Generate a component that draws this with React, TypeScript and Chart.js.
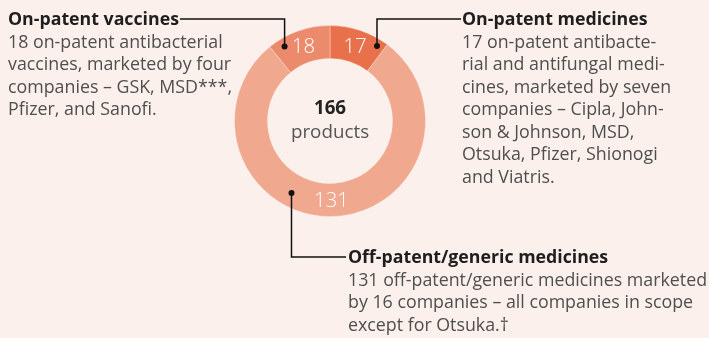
import React, { useEffect, useRef } from "react";
import { Chart, registerables } from "chart.js";

Chart.register(...registerables);

const categories = ["On-patent medicines", "Off-patent/generic medicines", "On-patent vaccines"];
const values = [17, 131, 18];
const colors = ["#E8704A", "#F0A88E", "#EC8A6C"];
const totalLabel = "166";
const totalSub = "products";

const vaccinesTitle = "On-patent vaccines";
const vaccinesBody = [
  "18 on-patent antibacterial",
  "vaccines, marketed by four",
  "companies – GSK, MSD***,",
  "Pfizer, and Sanofi.",
];
const medicinesTitle = "On-patent medicines";
const medicinesBody = [
  "17 on-patent antibacte-",
  "rial and antifungal medi-",
  "cines, marketed by seven",
  "companies – Cipla, John-",
  "son & Johnson, MSD,",
  "Otsuka, Pfizer, Shionogi",
  "and Viatris.",
];
const genericTitle = "Off-patent/generic medicines";
const genericBody = [
  "131 off-patent/generic medicines marketed",
  "by 16 companies – all companies in scope",
  "except for Otsuka.†",
];

const FONT = "'Open Sans', 'Noto Sans', sans-serif";
const BG = "#FBF0EC";

const fitSize = (ctx: CanvasRenderingContext2D, weight: string, text: string, target: number) => {
  ctx.font = `${weight} 20px ${FONT}`;
  const w = ctx.measureText(text).width;
  return (20 * target) / w;
};

const annotPlugin = {
  id: "annot",
  afterDraw(chart: any) {
    const ctx = chart.ctx as CanvasRenderingContext2D;
    const meta = chart.getDatasetMeta(0);
    const arcs = meta.data as any[];
    ctx.save();

    const titleSize = fitSize(ctx, "bold", vaccinesTitle, 171);
    const bodySize = fitSize(ctx, "normal", vaccinesBody[0], 215);

    // center text
    const c0 = arcs[0];
    const cx = c0.x;
    const cy = c0.y;
    ctx.textAlign = "center";
    ctx.textBaseline = "alphabetic";
    ctx.fillStyle = "#222";
    ctx.font = `bold ${titleSize + 1}px ${FONT}`;
    ctx.fillText(totalLabel, cx, cy - 7);
    ctx.fillStyle = "#555555";
    ctx.font = `normal ${bodySize + 1}px ${FONT}`;
    ctx.fillText(totalSub, cx, cy + 17);

    // value labels
    const labelPos: { x: number; y: number }[] = arcs.map((a: any) => {
      const mid = (a.startAngle + a.endAngle) / 2;
      const r = (a.innerRadius + a.outerRadius) / 2;
      return { x: a.x + Math.cos(mid) * r, y: a.y + Math.sin(mid) * r };
    });
    ctx.fillStyle = "#FFFFFF";
    ctx.font = `300 ${bodySize + 2.5}px ${FONT}`;
    ctx.textBaseline = "middle";
    arcs.forEach((_a, i) => {
      ctx.fillText(String(values[i]), labelPos[i].x, labelPos[i].y + 1);
    });

    // texts
    const drawBlock = (title: string, body: string[], x: number, y: number) => {
      ctx.textAlign = "left";
      ctx.textBaseline = "alphabetic";
      ctx.fillStyle = "#1E1E1E";
      ctx.font = `bold ${titleSize}px ${FONT}`;
      ctx.fillText(title, x, y);
      const tw = ctx.measureText(title).width;
      ctx.fillStyle = "#4F4F4F";
      ctx.font = `normal ${bodySize}px ${FONT}`;
      body.forEach((line, i) => ctx.fillText(line, x, y + 22.5 * (i + 1)));
      return tw;
    };
    const tw1 = drawBlock(vaccinesTitle, vaccinesBody, 8, 25);
    drawBlock(medicinesTitle, medicinesBody, 462, 25);
    drawBlock(genericTitle, genericBody, 348, 263);

    // leader lines
    ctx.strokeStyle = "#111";
    ctx.fillStyle = "#111";
    ctx.lineWidth = 1.5;
    const dot = (x: number, y: number) => {
      ctx.beginPath();
      ctx.arc(x, y, 3, 0, Math.PI * 2);
      ctx.fill();
    };
    // vaccines (index 2)
    const d2 = { x: labelPos[2].x - 19, y: labelPos[2].y };
    ctx.beginPath();
    ctx.moveTo(8 + tw1 + 1, 19);
    ctx.lineTo(d2.x, 19);
    ctx.lineTo(d2.x, d2.y);
    ctx.stroke();
    dot(d2.x, d2.y);
    // medicines (index 0)
    const d0 = { x: labelPos[0].x + 22, y: labelPos[0].y };
    ctx.beginPath();
    ctx.moveTo(d0.x, d0.y);
    ctx.lineTo(d0.x, 19);
    ctx.lineTo(461, 19);
    ctx.stroke();
    dot(d0.x, d0.y);
    // generic (index 1)
    const d1 = { x: labelPos[1].x - 40, y: labelPos[1].y - 7 };
    ctx.beginPath();
    ctx.moveTo(d1.x, d1.y);
    ctx.lineTo(d1.x, 257);
    ctx.lineTo(346, 257);
    ctx.stroke();
    dot(d1.x, d1.y);

    ctx.restore();
  },
};

export default function App() {
  const ref = useRef<HTMLCanvasElement | null>(null);
  useEffect(() => {
    document.body.style.margin = "0";
    document.body.style.background = BG;
    const chart = new Chart(ref.current!, {
      type: "doughnut",
      data: {
        labels: categories,
        datasets: [
          {
            data: values,
            backgroundColor: colors,
            borderColor: "rgba(251,240,236,0.35)",
            borderWidth: 1,
          },
        ],
      },
      options: {
        animation: false,
        responsive: false,
        cutout: "65.5%",
        layout: { padding: { left: 234, right: 283, top: 25, bottom: 121 } },
        plugins: { legend: { display: false }, tooltip: { enabled: false } },
      },
      plugins: [annotPlugin],
    });
    return () => chart.destroy();
  }, []);
  return (
    <div style={{ width: 709, height: 338, background: BG }}>
      <canvas ref={ref} width={709} height={338} />
    </div>
  );
}
